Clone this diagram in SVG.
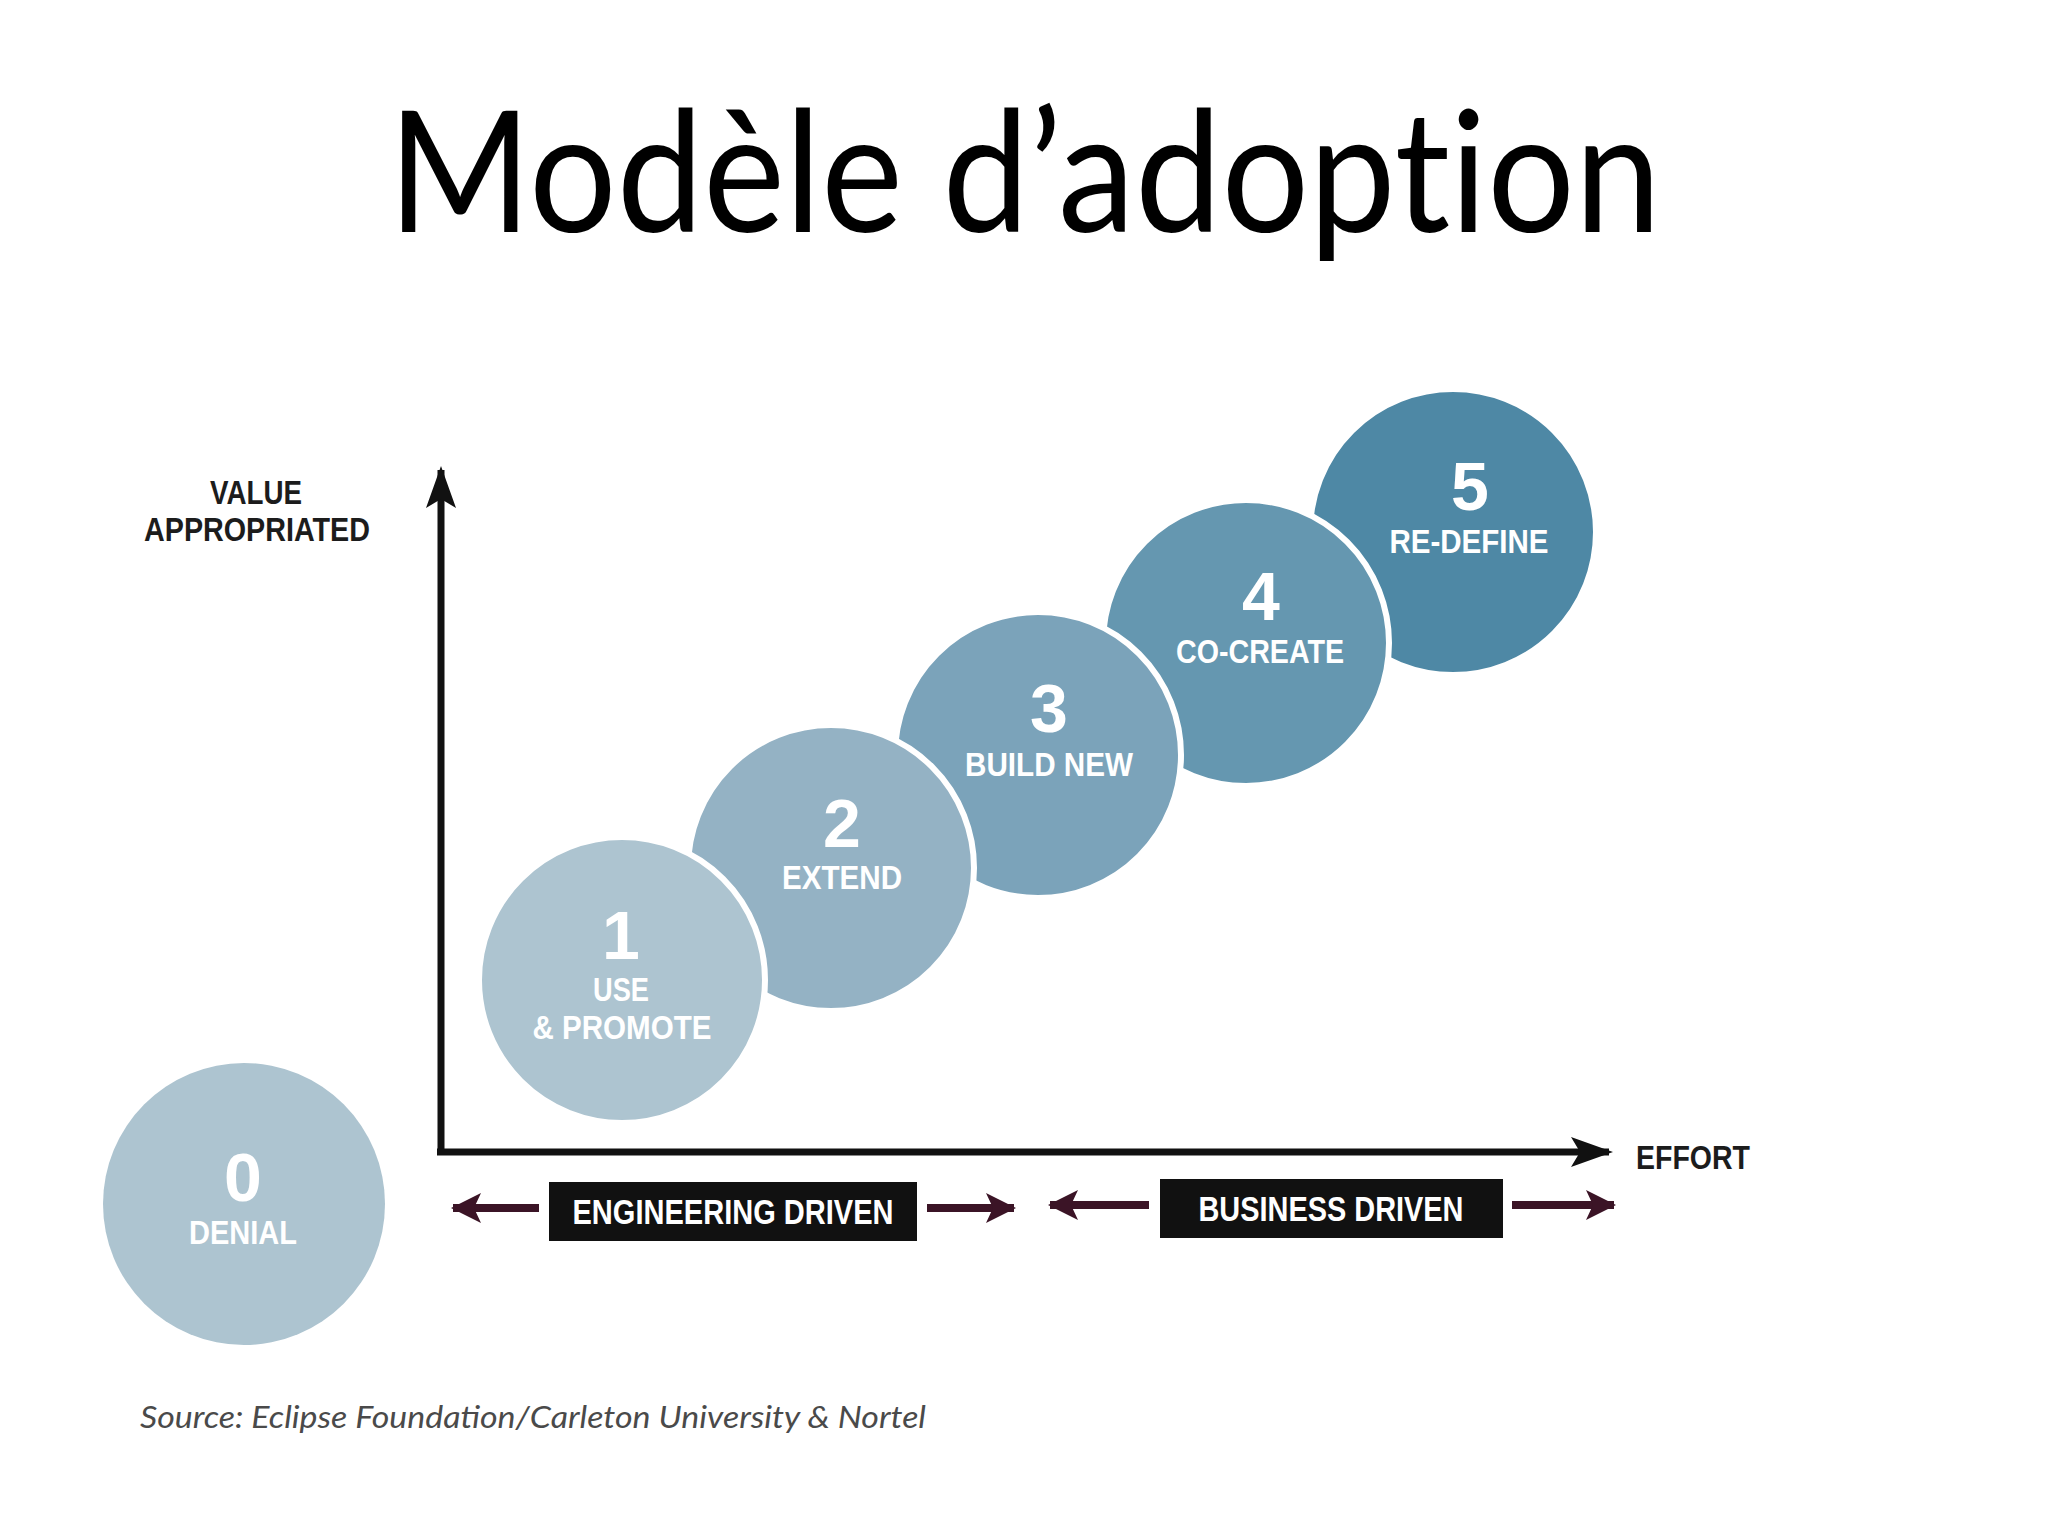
<svg xmlns="http://www.w3.org/2000/svg" width="2048" height="1536" viewBox="0 0 2048 1536">
  <defs>
    <style>
      .title { font-family: Lato, "Open Sans", "Liberation Sans", sans-serif; font-size: 168px; fill: #000; font-variant-ligatures: none; font-feature-settings: "liga" 0, "dlig" 0; }
      .circ { stroke: #ffffff; stroke-width: 6; }
      .num { font-family: "Liberation Sans", Arial, sans-serif; font-weight: bold; font-size: 68px; fill: #ffffff; text-anchor: middle; }
      .lbl { font-family: "Liberation Sans", Arial, sans-serif; font-weight: bold; font-size: 33px; fill: #ffffff; text-anchor: middle; }
      .axl { font-family: "Liberation Sans", Arial, sans-serif; font-weight: bold; font-size: 33px; fill: #1c1c1c; text-anchor: middle; }
      .box { fill: #111111; }
      .boxt { font-family: "Liberation Sans", Arial, sans-serif; font-weight: bold; font-size: 35px; fill: #ffffff; text-anchor: middle; }
      .axis { stroke: #111111; stroke-width: 7; fill: none; }
      .drv { stroke: #3b1426; stroke-width: 8; fill: none; }
      .src { font-family: Lato, "Open Sans", "Liberation Sans", sans-serif; font-style: italic; font-size: 31px; fill: #4a4a4a; }
    </style>
    <marker id="axhead" viewBox="0 0 42 30" refX="38" refY="15" markerWidth="42" markerHeight="30" markerUnits="userSpaceOnUse" orient="auto">
      <path d="M0,0 L42,15 L0,30 L9,15 Z" fill="#111111"/>
    </marker>
    <marker id="drvhead" viewBox="0 0 30 30" refX="28" refY="15" markerWidth="30" markerHeight="30" markerUnits="userSpaceOnUse" orient="auto">
      <path d="M0,0 L30,15 L0,30 L7,15 Z" fill="#3b1426"/>
    </marker>
  </defs>

  <rect width="2048" height="1536" fill="#ffffff"/>

  <text class="title" x="388" y="232" textLength="1273" lengthAdjust="spacingAndGlyphs">Modèle d’adoption</text>

  <g id="connectors">
    <line class="axis" x1="441" y1="1155" x2="441" y2="470" marker-end="url(#axhead)"/>
    <line class="axis" x1="437" y1="1152" x2="1609" y2="1152" marker-end="url(#axhead)"/>
    <line class="drv" x1="539" y1="1208" x2="453" y2="1208" marker-end="url(#drvhead)"/>
    <line class="drv" x1="927" y1="1208" x2="1014" y2="1208" marker-end="url(#drvhead)"/>
    <line class="drv" x1="1149" y1="1205" x2="1050" y2="1205" marker-end="url(#drvhead)"/>
    <line class="drv" x1="1512" y1="1205" x2="1614" y2="1205" marker-end="url(#drvhead)"/>
  </g>

  <g id="axis-labels">
    <text class="axl" x="256" y="504" textLength="92" lengthAdjust="spacingAndGlyphs">VALUE</text>
    <text class="axl" x="257" y="541" textLength="226" lengthAdjust="spacingAndGlyphs">APPROPRIATED</text>
    <text class="axl" x="1693" y="1169" textLength="114" lengthAdjust="spacingAndGlyphs">EFFORT</text>
  </g>

  <g id="node5">
    <circle class="circ" cx="1453" cy="532" r="143" fill="#4e88a5"/>
    <text class="num" x="1470" y="510">5</text>
    <text class="lbl" x="1469" y="553" textLength="159" lengthAdjust="spacingAndGlyphs">RE-DEFINE</text>
  </g>
  <g id="node4">
    <circle class="circ" cx="1246" cy="643" r="143" fill="#6597b0"/>
    <text class="num" x="1261" y="620">4</text>
    <text class="lbl" x="1260" y="663" textLength="168" lengthAdjust="spacingAndGlyphs">CO-CREATE</text>
  </g>
  <g id="node3">
    <circle class="circ" cx="1038" cy="755" r="143" fill="#7ba3ba"/>
    <text class="num" x="1049" y="732">3</text>
    <text class="lbl" x="1049" y="776" textLength="168" lengthAdjust="spacingAndGlyphs">BUILD NEW</text>
  </g>
  <g id="node2">
    <circle class="circ" cx="831" cy="868" r="143" fill="#94b2c4"/>
    <text class="num" x="842" y="847">2</text>
    <text class="lbl" x="842" y="889" textLength="120" lengthAdjust="spacingAndGlyphs">EXTEND</text>
  </g>
  <g id="node1">
    <circle class="circ" cx="622" cy="980" r="143" fill="#adc4d0"/>
    <text class="num" x="621" y="959">1</text>
    <text class="lbl" x="621" y="1001" textLength="56" lengthAdjust="spacingAndGlyphs">USE</text>
    <text class="lbl" x="622" y="1039" textLength="179" lengthAdjust="spacingAndGlyphs">&amp; PROMOTE</text>
  </g>
  <g id="node0">
    <circle cx="244" cy="1204" r="141" fill="#adc4d0"/>
    <text class="num" x="243" y="1201">0</text>
    <text class="lbl" x="243" y="1244" textLength="108" lengthAdjust="spacingAndGlyphs">DENIAL</text>
  </g>

  <g id="engineering-driven">
    <rect class="box" x="549" y="1182" width="368" height="59"/>
    <text class="boxt" x="733" y="1224" textLength="321" lengthAdjust="spacingAndGlyphs">ENGINEERING DRIVEN</text>
  </g>
  <g id="business-driven">
    <rect class="box" x="1160" y="1179" width="343" height="59"/>
    <text class="boxt" x="1331" y="1221" textLength="265" lengthAdjust="spacingAndGlyphs">BUSINESS DRIVEN</text>
  </g>

  <text class="src" x="140" y="1428" textLength="786" lengthAdjust="spacingAndGlyphs">Source: Eclipse Foundation/Carleton University &amp; Nortel</text>
</svg>
